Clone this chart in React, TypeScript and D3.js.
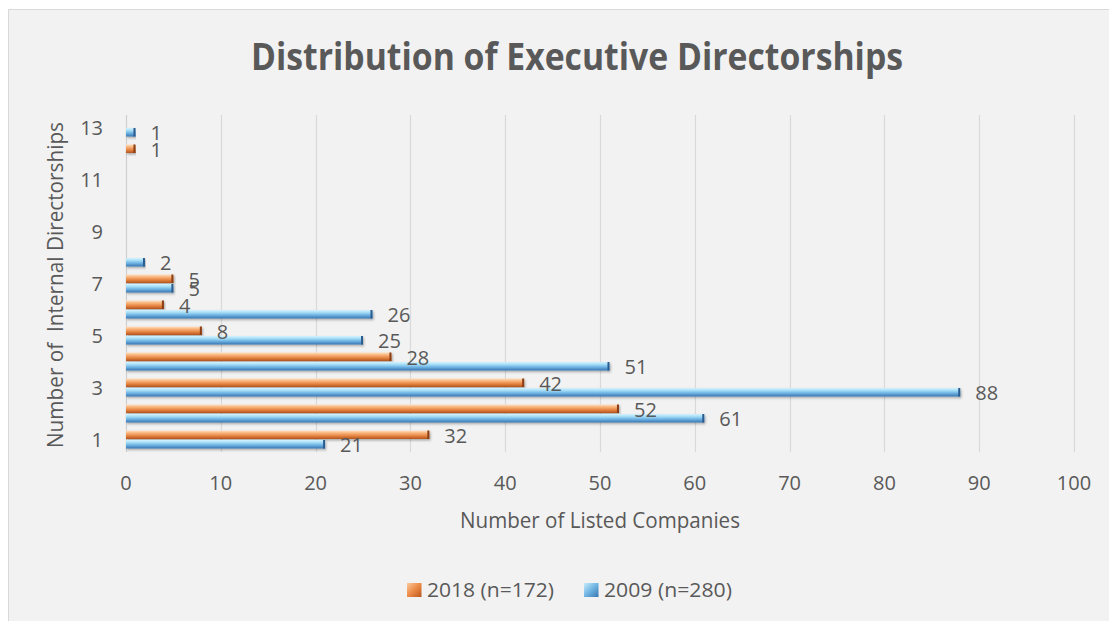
import React from "react";
import * as d3 from "d3";

const categories = [1, 2, 3, 4, 5, 6, 7, 8, 9, 10, 11, 12, 13];
const yTickLabels = [1, 3, 5, 7, 9, 11, 13];
const values2018 = [32, 52, 42, 28, 8, 4, 5, 0, 0, 0, 0, 1, 0];
const values2009 = [21, 61, 88, 51, 25, 26, 5, 2, 0, 0, 0, 0, 1];
const xTicks = [0, 10, 20, 30, 40, 50, 60, 70, 80, 90, 100];
const seriesNames = ["2018 (n=172)", "2009 (n=280)"];

const TEXT = "#595959";
const FONT = "'Open Sans', 'Noto Sans', sans-serif";

export default function App() {
  const W = 1109;
  const H = 621;
  const x = d3.scaleLinear().domain([0, 100]).range([126, 1074]);
  const y = d3
    .scaleBand<number>()
    .domain([...categories].reverse())
    .range([114.5, 452.5])
    .paddingInner(0)
    .paddingOuter(0);
  const bw = y.bandwidth();
  const center = (c: number) => (y(c) as number) + bw / 2;

  const bars: { cat: number; v: number; s: number }[] = [];
  categories.forEach((c, i) => {
    bars.push({ cat: c, v: values2018[i], s: 0 });
    bars.push({ cat: c, v: values2009[i], s: 1 });
  });

  const barY = (b: { cat: number; s: number }) =>
    b.s === 0 ? center(b.cat) - 9 : center(b.cat) + 0.5;
  const barH = 8.5;

  return (
    <svg
      width={W}
      height={H}
      style={{ position: "fixed", left: 0, top: 0, display: "block" }}
      fontFamily={FONT}
    >
      <defs>
        <linearGradient id="gOrange" x1="0" y1="0" x2="0" y2="1">
          <stop offset="0%" stopColor="#fde0c4" />
          <stop offset="30%" stopColor="#f8b37a" />
          <stop offset="65%" stopColor="#e4813f" />
          <stop offset="100%" stopColor="#b0541c" />
        </linearGradient>
        <linearGradient id="gBlue" x1="0" y1="0" x2="0" y2="1">
          <stop offset="0%" stopColor="#d6f3fe" />
          <stop offset="30%" stopColor="#a3dcf6" />
          <stop offset="65%" stopColor="#66acdf" />
          <stop offset="100%" stopColor="#3a76b0" />
        </linearGradient>
        <linearGradient id="gOrangeLeg" x1="0" y1="0" x2="1" y2="1">
          <stop offset="0%" stopColor="#fbc99c" />
          <stop offset="50%" stopColor="#ec8a47" />
          <stop offset="100%" stopColor="#b9581d" />
        </linearGradient>
        <linearGradient id="gBlueLeg" x1="0" y1="0" x2="1" y2="1">
          <stop offset="0%" stopColor="#c9ecfb" />
          <stop offset="50%" stopColor="#6fb4e3" />
          <stop offset="100%" stopColor="#3a76b0" />
        </linearGradient>
        <filter id="shadow" x="-5%" y="-50%" width="110%" height="200%">
          <feDropShadow dx="1" dy="1.5" stdDeviation="1" floodColor="#000" floodOpacity="0.3" />
        </filter>
      </defs>

      <rect x={0} y={0} width={W} height={H} fill="#ffffff" />
      <rect x={8.5} y={9.5} width={W} height={H} fill="#f2f2f2" stroke="#d9d9d9" strokeWidth={1} />

      {/* title */}
      <text
        x={577}
        y={70}
        textAnchor="middle"
        fontSize={37}
        fontWeight="bold"
        fill={TEXT}
        textLength={652}
        lengthAdjust="spacingAndGlyphs"
      >
        Distribution of Executive Directorships
      </text>

      {/* gridlines */}
      {xTicks.map((t) => (
        <line
          key={"g" + t}
          x1={Math.round(x(t)) + 0.5}
          x2={Math.round(x(t)) + 0.5}
          y1={115}
          y2={452}
          stroke={t === 0 ? "#cfcfcf" : "#d9d9d9"}
          strokeWidth={1.2}
        />
      ))}

      {/* x tick labels */}
      {xTicks.map((t) => (
        <text key={"xt" + t} x={x(t)} y={490} textAnchor="middle" fontSize={20} fill={TEXT}>
          {t}
        </text>
      ))}

      {/* y tick labels */}
      {yTickLabels.map((c) => (
        <text key={"yt" + c} x={103} y={center(c) + 7} textAnchor="end" fontSize={20} fill={TEXT}>
          {c}
        </text>
      ))}

      {/* bars */}
      {bars
        .filter((b) => b.v > 0)
        .map((b, i) => {
          const x0 = x(0);
          const w = x(b.v) - x0;
          const yy = barY(b);
          return (
            <g key={"b" + i} filter="url(#shadow)">
              <rect
                x={x0}
                y={yy}
                width={w}
                height={barH}
                fill={b.s === 0 ? "url(#gOrange)" : "url(#gBlue)"}
              />
              <rect
                x={x0 + w - 2}
                y={yy}
                width={2}
                height={barH}
                fill={b.s === 0 ? "#8a3d12" : "#2b5c8f"}
              />
            </g>
          );
        })}

      {/* data labels */}
      {bars
        .filter((b) => b.v > 0)
        .map((b, i) => (
          <text
            key={"l" + i}
            x={x(b.v) + 15}
            y={barY(b) + barH / 2 + 8}
            fontSize={20}
            fill={TEXT}
          >
            {b.v}
          </text>
        ))}

      {/* axis titles */}
      <text
        x={600}
        y={528}
        textAnchor="middle"
        fontSize={22}
        fill={TEXT}
        textLength={280}
        lengthAdjust="spacingAndGlyphs"
      >
        Number of Listed Companies
      </text>
      <text
        transform={`translate(63,285) rotate(-90)`}
        textAnchor="middle"
        fontSize={22}
        fill={TEXT}
        textLength={326}
        lengthAdjust="spacingAndGlyphs"
        style={{ whiteSpace: "pre" }}
      >
        {"Number of  Internal Directorships"}
      </text>

      {/* legend */}
      <rect x={407} y={583} width={14.5} height={14} fill="url(#gOrangeLeg)" />
      <text
        x={427}
        y={597}
        fontSize={20}
        fill={TEXT}
        textLength={127}
        lengthAdjust="spacingAndGlyphs"
      >
        {seriesNames[0]}
      </text>
      <rect x={584} y={583} width={14.5} height={14} fill="url(#gBlueLeg)" />
      <text
        x={604}
        y={597}
        fontSize={20}
        fill={TEXT}
        textLength={128}
        lengthAdjust="spacingAndGlyphs"
      >
        {seriesNames[1]}
      </text>
    </svg>
  );
}
